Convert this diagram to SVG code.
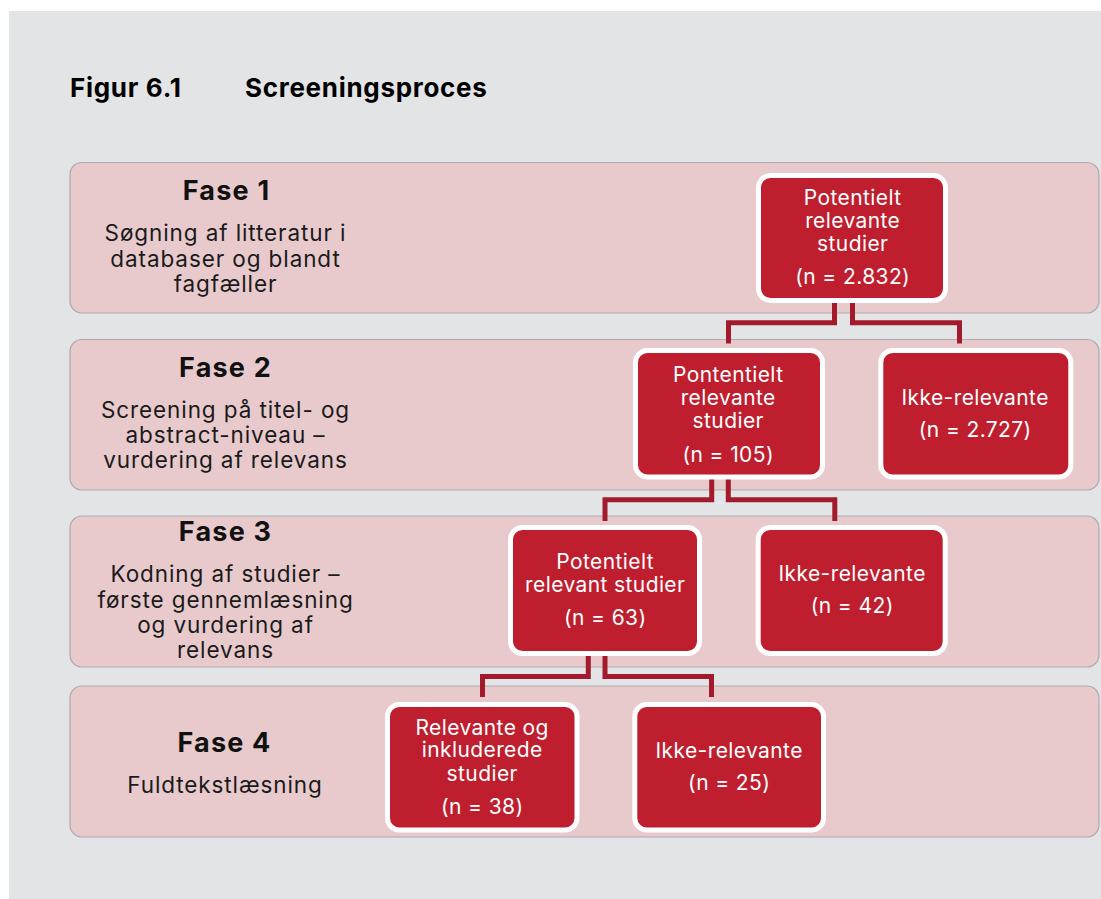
<svg xmlns="http://www.w3.org/2000/svg" width="1101" height="899" viewBox="0 0 1101 899">
<style>
.bg{fill:#e3e4e6}
.band{fill:#e8cacd;stroke:#aeaaab;stroke-width:1.2}
.box{fill:#be1e2e;stroke:#ffffff;stroke-width:5}
.conn{fill:none;stroke:#a21a2c;stroke-width:5;stroke-linejoin:miter;stroke-linecap:butt}
.title{font-family:Inter,"Liberation Sans",sans-serif;font-weight:700;font-size:26px;letter-spacing:0.7px;fill:#000}
.fase{font-family:Inter,"Liberation Sans",sans-serif;font-weight:700;font-size:27px;letter-spacing:1.2px;fill:#111;text-anchor:middle}
.desc{font-family:Inter,"Liberation Sans",sans-serif;font-size:22.5px;letter-spacing:0.9px;fill:#1a1a1a;text-anchor:middle}
.bt{font-family:Inter,"Liberation Sans",sans-serif;font-size:21px;letter-spacing:0.4px;fill:#ffffff;text-anchor:middle}
</style>
<rect class="bg" x="9" y="11" width="1092" height="888"/>
<text class="title" x="70" y="97">Figur 6.1</text>
<text class="title" x="245" y="97">Screeningsproces</text>

<g id="fase1">
<rect class="band" x="70" y="162.5" width="1029" height="150.5" rx="12"/>
<text class="fase" x="226.5" y="200">Fase 1</text>
<text class="desc" x="225.5" y="241">Søgning af litteratur i</text>
<text class="desc" x="225.5" y="267">databaser og blandt</text>
<text class="desc" x="225.5" y="292">fagfæller</text>
</g>
<g id="fase2">
<rect class="band" x="70" y="339.5" width="1029" height="150.5" rx="12"/>
<text class="fase" x="225.5" y="377">Fase 2</text>
<text class="desc" x="225.5" y="418">Screening på titel- og</text>
<text class="desc" x="225.5" y="443">abstract-niveau –</text>
<text class="desc" x="225.5" y="468">vurdering af relevans</text>
</g>
<g id="fase3">
<rect class="band" x="70" y="516" width="1029" height="151" rx="12"/>
<text class="fase" x="225.5" y="541">Fase 3</text>
<text class="desc" x="225.5" y="582">Kodning af studier –</text>
<text class="desc" x="225.5" y="607.5">første gennemlæsning</text>
<text class="desc" x="225.5" y="633">og vurdering af</text>
<text class="desc" x="225.5" y="658">relevans</text>
</g>
<g id="fase4">
<rect class="band" x="70" y="686" width="1029" height="151" rx="12"/>
<text class="fase" x="224.5" y="752">Fase 4</text>
<text class="desc" x="225" y="793">Fuldtekstlæsning</text>
</g>

<g id="connectors">
<path class="conn" d="M834.5,303 V322.8 H728.5 V343.5"/>
<path class="conn" d="M852.5,303 V322.8 H959.5 V343.5"/>
<path class="conn" d="M711.7,479 V499.8 H605 V521"/>
<path class="conn" d="M728.3,479 V499.8 H834.8 V521"/>
<path class="conn" d="M588.3,656 V676.5 H482.5 V697"/>
<path class="conn" d="M605,656 V676.5 H711.5 V697"/>
</g>

<g id="n1">
<rect class="box" x="758.5" y="175.5" width="187" height="125" rx="12"/>
<text class="bt" x="852.7" y="205">Potentielt</text>
<text class="bt" x="852.7" y="228">relevante</text>
<text class="bt" x="852.7" y="251">studier</text>
<text class="bt" x="852.7" y="284">(n = 2.832)</text>
</g>
<g id="n2a">
<rect class="box" x="635.5" y="350.5" width="187" height="126.5" rx="12"/>
<text class="bt" x="728.2" y="382">Pontentielt</text>
<text class="bt" x="728.2" y="405">relevante</text>
<text class="bt" x="728.2" y="428">studier</text>
<text class="bt" x="728.2" y="461.5">(n = 105)</text>
</g>
<g id="n2b">
<rect class="box" x="880.8" y="350.5" width="190" height="126.5" rx="12"/>
<text class="bt" x="975.2" y="405">Ikke-relevante</text>
<text class="bt" x="975.2" y="437">(n = 2.727)</text>
</g>
<g id="n3a">
<rect class="box" x="510.5" y="527.5" width="189" height="126" rx="12"/>
<text class="bt" x="605.2" y="569">Potentielt</text>
<text class="bt" x="605.2" y="592">relevant studier</text>
<text class="bt" x="605.2" y="625">(n = 63)</text>
</g>
<g id="n3b">
<rect class="box" x="758.2" y="527.5" width="187" height="126" rx="12"/>
<text class="bt" x="852.2" y="581">Ikke-relevante</text>
<text class="bt" x="852.2" y="613">(n = 42)</text>
</g>
<g id="n4a">
<rect class="box" x="387.5" y="704.5" width="189.5" height="125.5" rx="12"/>
<text class="bt" x="482.2" y="734.5">Relevante og</text>
<text class="bt" x="482.2" y="757">inkluderede</text>
<text class="bt" x="482.2" y="780.5">studier</text>
<text class="bt" x="482.2" y="814">(n = 38)</text>
</g>
<g id="n4b">
<rect class="box" x="634.8" y="704.5" width="188.7" height="125.5" rx="12"/>
<text class="bt" x="729.2" y="758">Ikke-relevante</text>
<text class="bt" x="729.2" y="790">(n = 25)</text>
</g>
</svg>
